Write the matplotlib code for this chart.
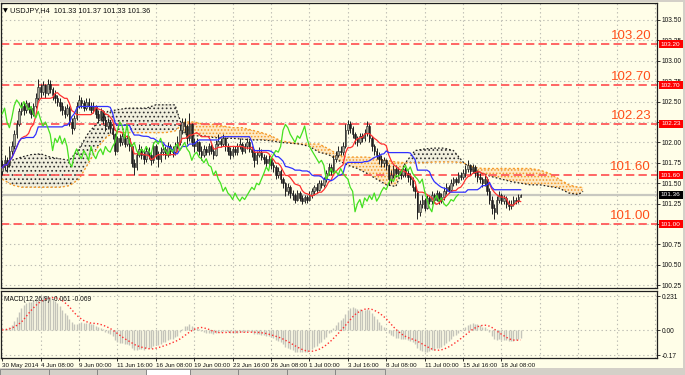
import matplotlib
matplotlib.use("Agg")
import matplotlib.pyplot as plt
import matplotlib.transforms as mtransforms
from matplotlib.patches import Rectangle
import numpy as np
import pandas as pd

plt.rcParams['font.family'] = ['Liberation Sans', 'DejaVu Sans']
plt.rcParams['lines.scale_dashes'] = False
plt.rcParams['hatch.linewidth'] = 0.7

# USDJPY H4 bars, 30 May 2014 .. 21 Jul 2014
first_open = 101.65
closes = [
    101.70, 101.78, 101.72, 101.90, 101.95, 102.10, 102.22, 102.38, 102.45, 102.40,
    102.48, 102.42, 102.35, 102.45, 102.55, 102.68, 102.62, 102.70, 102.60, 102.72,
    102.65, 102.58, 102.55, 102.50, 102.45, 102.40, 102.35, 102.42, 102.25, 102.18,
    102.30, 102.45, 102.52, 102.48, 102.42, 102.50, 102.45, 102.40, 102.44, 102.35,
    102.30, 102.38, 102.28, 102.20, 102.25, 102.18, 102.10, 101.90, 102.05, 102.00,
    102.08, 101.98, 102.05, 101.95, 101.75, 101.70, 101.85, 101.92, 101.85, 101.80,
    101.90, 101.85, 101.78, 101.95, 101.85, 101.80, 101.88, 101.92, 101.85, 101.95,
    101.90, 101.88, 101.95, 102.00, 102.15, 102.25, 102.20, 102.05, 102.22, 102.00,
    101.95, 102.00, 101.90, 101.85, 101.92, 101.88, 101.95, 101.90, 101.85, 101.98,
    102.02, 101.98, 102.05, 101.95, 101.90, 101.85, 101.92, 101.88, 101.95, 101.98,
    101.90, 101.95, 102.00, 101.92, 101.88, 101.78, 101.85, 101.88, 101.82, 101.80,
    101.75, 101.80, 101.72, 101.70, 101.60, 101.65, 101.55, 101.50, 101.40, 101.45,
    101.38, 101.35, 101.30, 101.38, 101.32, 101.28, 101.33, 101.30, 101.35, 101.40,
    101.45, 101.42, 101.50, 101.48, 101.55, 101.62, 101.70, 101.65, 101.80, 101.85,
    101.90, 101.88, 101.95, 102.15, 102.22, 102.18, 102.10, 102.05, 102.00, 102.08,
    102.05, 102.12, 102.20, 102.05, 101.95, 101.90, 101.85, 101.80, 101.75, 101.78,
    101.72, 101.55, 101.60, 101.68, 101.62, 101.65, 101.60, 101.68, 101.62, 101.58,
    101.55, 101.45, 101.40, 101.15, 101.25, 101.30, 101.20, 101.32, 101.28, 101.35,
    101.30, 101.38, 101.28, 101.33, 101.40, 101.45, 101.42, 101.50, 101.55, 101.52,
    101.60, 101.58, 101.62, 101.68, 101.72, 101.65, 101.70, 101.62, 101.58, 101.55,
    101.50, 101.55, 101.40, 101.30, 101.20, 101.15, 101.30, 101.35, 101.28, 101.32,
    101.25, 101.22, 101.25, 101.30, 101.28, 101.33, 101.36,
]
highs = [
    101.78, 101.85, 101.82, 101.95, 102.02, 102.15, 102.28, 102.42, 102.50, 102.50,
    102.52, 102.50, 102.45, 102.48, 102.60, 102.78, 102.72, 102.75, 102.72, 102.78,
    102.76, 102.68, 102.64, 102.58, 102.55, 102.50, 102.45, 102.47, 102.44, 102.30,
    102.34, 102.50, 102.58, 102.56, 102.52, 102.55, 102.54, 102.50, 102.50, 102.46,
    102.40, 102.42, 102.40, 102.32, 102.30, 102.28, 102.22, 102.12, 102.08, 102.10,
    102.12, 102.10, 102.09, 102.08, 101.98, 101.80, 101.90, 101.98, 101.95, 101.90,
    101.95, 101.94, 101.88, 102.00, 101.98, 101.90, 101.94, 101.98, 101.95, 102.00,
    101.98, 101.95, 102.00, 102.08, 102.22, 102.30, 102.30, 102.22, 102.36, 102.24,
    102.05, 102.06, 102.02, 101.95, 101.97, 101.96, 101.99, 101.98, 101.94, 102.03,
    102.10, 102.06, 102.10, 102.07, 101.99, 101.94, 101.96, 101.95, 101.99, 102.05,
    102.00, 101.99, 102.06, 102.03, 101.96, 101.92, 101.90, 101.94, 101.92, 101.86,
    101.84, 101.85, 101.82, 101.76, 101.72, 101.70, 101.68, 101.58, 101.52, 101.50,
    101.48, 101.42, 101.38, 101.42, 101.40, 101.35, 101.36, 101.36, 101.40, 101.44,
    101.48, 101.50, 101.54, 101.54, 101.58, 101.66, 101.75, 101.74, 101.85, 101.90,
    101.95, 101.96, 102.00, 102.22, 102.27, 102.26, 102.20, 102.13, 102.08, 102.12,
    102.12, 102.16, 102.26, 102.22, 102.08, 101.98, 101.93, 101.88, 101.84, 101.82,
    101.80, 101.74, 101.66, 101.72, 101.72, 101.70, 101.68, 101.72, 101.70, 101.66,
    101.62, 101.58, 101.48, 101.42, 101.30, 101.36, 101.32, 101.36, 101.36, 101.40,
    101.38, 101.42, 101.40, 101.38, 101.45, 101.50, 101.48, 101.55, 101.58, 101.58,
    101.64, 101.64, 101.68, 101.72, 101.78, 101.74, 101.74, 101.72, 101.66, 101.62,
    101.58, 101.60, 101.57, 101.44, 101.34, 101.25, 101.34, 101.40, 101.38, 101.36,
    101.34, 101.30, 101.30, 101.34, 101.33, 101.37, 101.37,
]
lows = [
    101.60, 101.66, 101.64, 101.70, 101.85, 101.92, 102.05, 102.20, 102.33, 102.34,
    102.36, 102.36, 102.30, 102.32, 102.42, 102.52, 102.55, 102.58, 102.55, 102.58,
    102.60, 102.52, 102.48, 102.44, 102.38, 102.34, 102.30, 102.32, 102.20, 102.10,
    102.15, 102.28, 102.42, 102.42, 102.38, 102.40, 102.40, 102.36, 102.36, 102.30,
    102.24, 102.27, 102.22, 102.14, 102.16, 102.12, 102.04, 101.84, 101.88, 101.95,
    101.97, 101.94, 101.95, 101.90, 101.70, 101.60, 101.66, 101.82, 101.80, 101.74,
    101.76, 101.80, 101.72, 101.75, 101.80, 101.70, 101.76, 101.84, 101.80, 101.82,
    101.85, 101.82, 101.85, 101.92, 101.97, 102.10, 102.12, 101.98, 102.02, 101.95,
    101.88, 101.90, 101.84, 101.78, 101.82, 101.84, 101.85, 101.86, 101.80, 101.83,
    101.95, 101.94, 101.95, 101.90, 101.85, 101.80, 101.82, 101.84, 101.85, 101.92,
    101.86, 101.87, 101.92, 101.88, 101.82, 101.70, 101.74, 101.82, 101.78, 101.74,
    101.70, 101.72, 101.68, 101.64, 101.55, 101.56, 101.50, 101.44, 101.34, 101.36,
    101.32, 101.30, 101.26, 101.28, 101.28, 101.24, 101.26, 101.26, 101.28, 101.32,
    101.36, 101.38, 101.40, 101.44, 101.45, 101.52, 101.60, 101.60, 101.63, 101.76,
    101.82, 101.84, 101.85, 101.93, 102.10, 102.12, 102.05, 101.98, 101.95, 101.98,
    102.00, 102.02, 102.08, 102.00, 101.90, 101.84, 101.80, 101.74, 101.70, 101.70,
    101.66, 101.48, 101.50, 101.56, 101.58, 101.58, 101.55, 101.57, 101.58, 101.52,
    101.48, 101.40, 101.32, 101.06, 101.10, 101.20, 101.16, 101.18, 101.24, 101.25,
    101.26, 101.28, 101.24, 101.26, 101.30, 101.37, 101.38, 101.40, 101.46, 101.48,
    101.50, 101.54, 101.55, 101.58, 101.64, 101.60, 101.62, 101.58, 101.52, 101.50,
    101.45, 101.46, 101.35, 101.24, 101.12, 101.06, 101.12, 101.26, 101.24, 101.25,
    101.20, 101.17, 101.19, 101.22, 101.24, 101.26, 101.33,
]

# Ichimoku cloud (Senkou span A / B), read every 4 bars, shifted 26 bars ahead
span_x = list(range(0, 241, 4)) + [242]
span_a = [
    101.55, 101.48, 101.45, 101.45, 101.45, 101.45, 101.45, 101.47, 101.55, 101.75,
    101.95, 102.08, 102.12, 102.12, 102.12, 102.12, 102.12, 102.12, 102.14, 102.25,
    102.25, 102.22, 102.22, 102.20, 102.18, 102.18, 102.15, 102.12, 102.08, 102.02,
    102.00, 101.98, 101.98, 101.98, 101.92, 101.85, 101.82, 101.82, 101.82, 101.80,
    101.78, 101.76, 101.75, 101.75, 101.75, 101.76, 101.76, 101.76, 101.75, 101.70,
    101.68, 101.68, 101.68, 101.68, 101.68, 101.68, 101.66, 101.62, 101.55, 101.48,
    101.45, 101.45,
]
span_b = [
    101.72, 101.78, 101.82, 101.85, 101.86, 101.82, 101.80, 101.78, 101.92, 102.12,
    102.25, 102.38, 102.40, 102.42, 102.42, 102.42, 102.46, 102.46, 102.46, 102.10,
    102.08, 102.08, 102.06, 102.05, 102.05, 102.04, 102.03, 102.03, 102.02, 102.00,
    101.99, 101.98, 101.95, 101.88, 101.85, 101.78, 101.72, 101.68, 101.62, 101.55,
    101.48, 101.46, 101.75, 101.90, 101.92, 101.93, 101.93, 101.90, 101.76, 101.66,
    101.62, 101.58, 101.55, 101.52, 101.50, 101.48, 101.48, 101.46, 101.44, 101.38,
    101.36, 101.40,
]

levels = [103.20, 102.70, 102.23, 101.60, 101.00]
level_labels = ["103.20", "102.70", "102.23", "101.60", "101.00"]
price_ticks = [100.25, 100.50, 100.75, 101.00, 101.25, 101.50, 101.75,
               102.00, 102.25, 102.50, 102.75, 103.00, 103.25, 103.50]
last_price = 101.36
time_ticks = list(range(0, 209, 16))
time_labels = ["30 May 2014", "4 Jun 08:00", "9 Jun 00:00", "11 Jun 16:00",
               "16 Jun 08:00", "19 Jun 00:00", "23 Jun 16:00", "26 Jun 08:00",
               "1 Jul 00:00", "3 Jul 16:00", "8 Jul 08:00", "11 Jul 00:00",
               "15 Jul 16:00", "18 Jul 08:00"]
macd_ticks = [0.231, 0.0, -0.17]
macd_tick_labels = ["0.231", "0.00", "-0.17"]

# indicators
c = pd.Series(closes)
h = pd.Series(highs)
l = pd.Series(lows)
o = c.shift(1).fillna(first_open)
tenkan = (h.rolling(9, min_periods=1).max() + l.rolling(9, min_periods=1).min()) / 2
kijun = (h.rolling(26, min_periods=1).max() + l.rolling(26, min_periods=1).min()) / 2
macd = c.ewm(span=12, adjust=False).mean() - c.ewm(span=26, adjust=False).mean()
signal = macd.rolling(9, min_periods=1).mean()
idx = np.arange(len(c))

W, H = 685, 375
BG = '#FFFEE8'
fig = plt.figure(figsize=(W / 100, H / 100), dpi=100, facecolor=BG)
ax = fig.add_axes([1 / W, 1 - 288 / H, 656 / W, 285 / H], facecolor=BG)
ax2 = fig.add_axes([1 / W, 1 - 358 / H, 656 / W, 67 / H], facecolor=BG)

xmin, xmax = -0.5, 272.8
ax.set_xlim(xmin, xmax)
ax.set_ylim(100.216, 103.708)
ax2.set_xlim(xmin, xmax)
ax2.set_ylim(-0.19, 0.265)

grid_kw = dict(color='#BEBEB4', lw=0.8, ls=(0, (1, 2)))
for a in (ax, ax2):
    for sp in a.spines.values():
        sp.set_color('#202020')
        sp.set_linewidth(0.9)
    for t in range(0, 273, 16):
        a.axvline(t, zorder=0, **grid_kw)
for p in price_ticks:
    ax.axhline(p, zorder=0, **grid_kw)
for p in macd_ticks:
    ax2.axhline(p, zorder=0, **grid_kw)

# cloud: stippled fill, orange where span A is on top, black where span B is
sx = np.array(span_x)
sa = np.array(span_a)
sb = np.array(span_b)
ax.fill_between(sx, sa, sb, where=sa >= sb, interpolate=True, color='#FBD9A8',
                alpha=0.55, lw=0, zorder=1)
ax.fill_between(sx, sa, sb, where=sa >= sb, interpolate=True, facecolor='none',
                edgecolor='#F59A2A', hatch='.....', lw=0, zorder=1)
ax.fill_between(sx, sa, sb, where=sb > sa, interpolate=True, color='#E4E2D4',
                alpha=0.5, lw=0, zorder=1)
ax.fill_between(sx, sa, sb, where=sb > sa, interpolate=True, facecolor='none',
                edgecolor='#303030', hatch='....', lw=0, zorder=1)
ax.plot(sx, sa, color='#F59A2A', lw=1, ls=(0, (1.5, 1.5)), zorder=2)
ax.plot(sx, sb, color='#202020', lw=0.9, ls=(0, (1.2, 1.5)), zorder=2)

# bid line and levels
ax.axhline(last_price, color='#C8C8C0', lw=1.6, zorder=1)
for lv in levels:
    ax.axhline(lv, color='#FF5A5A', lw=1.3, ls=(0, (6, 3)), zorder=2)

# candles
up = c >= o
ax.vlines(idx, l, h, color='#202020', lw=0.7, zorder=3)
body_lo = np.minimum(o, c)
body_h = np.maximum(np.abs(c - o), 0.008)
ax.bar(idx[up], body_h[up], bottom=body_lo[up], width=0.62, color='#A8A898',
       edgecolor='#202020', lw=0.4, zorder=4)
ax.bar(idx[~up], body_h[~up], bottom=body_lo[~up], width=0.62, color='#202020',
       edgecolor='#202020', lw=0.4, zorder=4)

# ichimoku lines
ax.plot(idx, tenkan, color='#FF3030', lw=0.9, zorder=5)
ax.plot(idx, kijun, color='#3030FF', lw=0.9, zorder=5)
ax.plot(idx[:-26], closes[26:], color='#44E020', lw=0.9, zorder=5)

bt = mtransforms.blended_transform_factory(ax.transAxes, ax.transData)

# level captions
for lv, lab in zip(levels, level_labels):
    ax.text(0.991, lv + 0.025, lab, transform=bt, ha='right', va='bottom',
            fontsize=9.5, color='#FF4F1A')

# right price scale (labels hidden under a level box are left blank)
ax.yaxis.tick_right()
ax.set_yticks(price_ticks)
ax.set_yticklabels(["" if min(abs(p - lv) for lv in levels) < 0.03 else "%.2f" % p
                    for p in price_ticks])
ax.tick_params(axis='y', length=2, width=0.6, pad=1.5, labelsize=4.8, colors='#101010')
ax.set_xticks([])
box_h = 8 / 81.6
for lv, lab in zip(levels, level_labels):
    ax.add_patch(Rectangle((1.003, lv - box_h / 2), 0.036, box_h, transform=bt,
                           facecolor='#FF0000', edgecolor='none', clip_on=False, zorder=10))
    ax.text(1.021, lv, lab, transform=bt, ha='center', va='center', fontsize=4.6,
            color='white', clip_on=False, zorder=11)
ax.add_patch(Rectangle((1.003, last_price - box_h / 2), 0.036, box_h, transform=bt,
                       facecolor='#000000', edgecolor='none', clip_on=False, zorder=10))
ax.text(1.021, last_price, "%.2f" % last_price, transform=bt, ha='center', va='center',
        fontsize=4.6, color='white', clip_on=False, zorder=11)

ax.text(0.003, 0.983, "\u25bc", transform=ax.transAxes, fontsize=4.5, va='top',
        family=['DejaVu Sans'])
ax.text(0.014, 0.985, "USDJPY,H4  101.33 101.37 101.33 101.36", transform=ax.transAxes,
        fontsize=5.3, va='top', color='#101010')

# MACD
ax2.vlines(idx, 0, macd, color='#C4C4BA', lw=1.0, zorder=2)
ax2.plot(idx, signal, color='#FF3030', lw=1.0, ls=(0, (1, 1.6)), zorder=3)
ax2.yaxis.tick_right()
ax2.set_yticks(macd_ticks)
ax2.set_yticklabels(macd_tick_labels)
ax2.tick_params(axis='y', length=2, width=0.6, pad=1.5, labelsize=4.8, colors='#101010')
ax2.set_xticks(time_ticks)
ax2.set_xticklabels(time_labels, ha='left')
ax2.tick_params(axis='x', length=2, width=0.6, pad=1.5, labelsize=4.5, colors='#101010')
ax2.text(0.005, 0.92, "MACD(12,26,9) -0.061 -0.069", transform=ax2.transAxes,
         fontsize=4.8, va='top', color='#101010')

# window frame and tab strip
fig.add_artist(Rectangle((0, 1 - 2 / H), 1, 2 / H, transform=fig.transFigure,
                         facecolor='#D4D0C8', edgecolor='none'))
fig.add_artist(Rectangle((683 / W, 0), 2 / W, 1, transform=fig.transFigure,
                         facecolor='#D4D0C8', edgecolor='none'))
fig.add_artist(Rectangle((0, 0), 1, 7 / H, transform=fig.transFigure,
                         facecolor='#D4D0C8', edgecolor='none'))
for x0, x1 in [(0, 49), (49, 97), (97, 146), (146, 190), (190, 238), (238, 287),
               (287, 335), (335, 385)]:
    fc = '#FFFFFF' if x0 == 146 else '#D4D0C8'
    fig.add_artist(Rectangle((x0 / W, 0), (x1 - x0) / W, 6 / H, transform=fig.transFigure,
                             facecolor=fc, edgecolor='#808080', lw=0.6))

fig.savefig('out.png', dpi=100, facecolor=BG)
